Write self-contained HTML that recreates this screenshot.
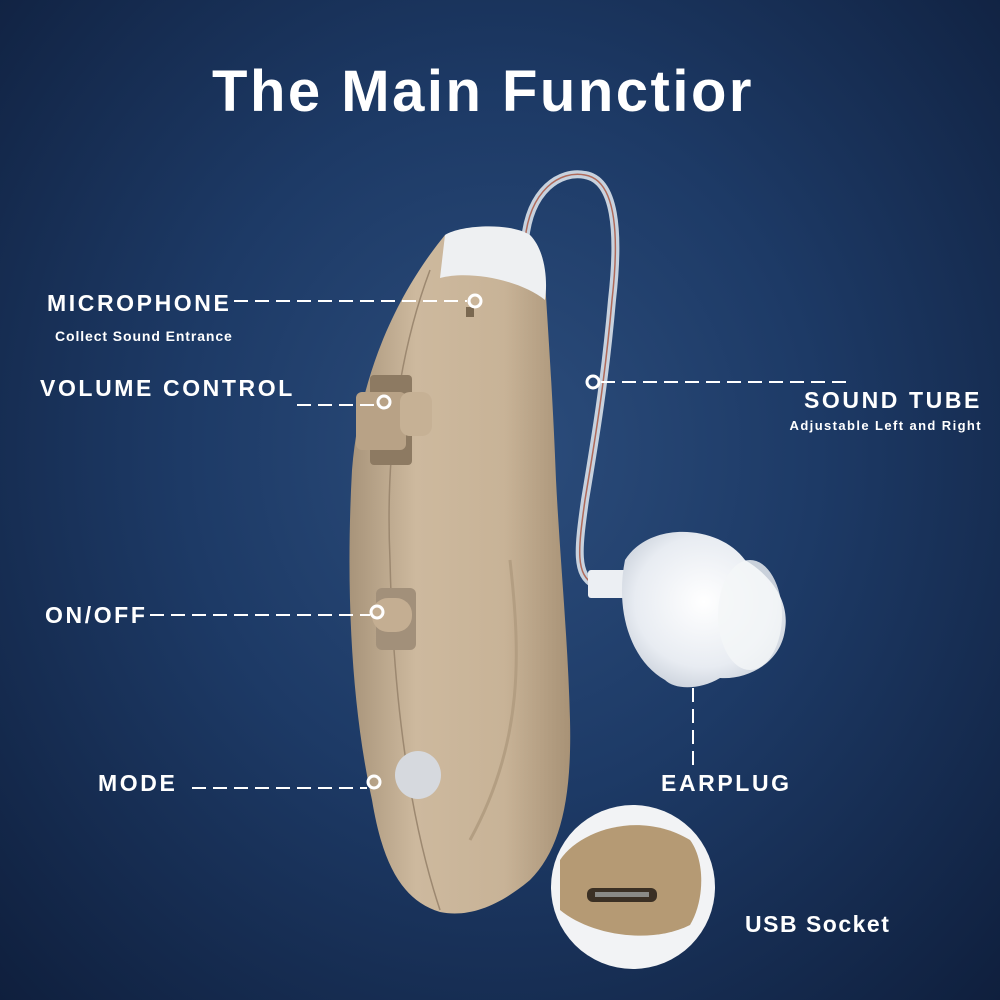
<!DOCTYPE html>
<html><head><meta charset="utf-8"><style>
html,body{margin:0;padding:0;width:1000px;height:1000px;overflow:hidden}
body{background:radial-gradient(ellipse at 50% 45%,#2c4d7c 0%,#1d3a66 45%,#0f1f3d 100%);font-family:"Liberation Sans",Arial,sans-serif;color:#fff;position:relative}
.t{position:absolute;font-weight:bold;white-space:nowrap;letter-spacing:2.6px}
</style></head><body>
<svg width="1000" height="1000" style="position:absolute;left:0;top:0">
<defs>
<linearGradient id="bg" x1="0" x2="1" y1="0" y2="0">
<stop offset="0" stop-color="#a8947a"/><stop offset="0.3" stop-color="#cdb99e"/><stop offset="0.7" stop-color="#c8b397"/><stop offset="1" stop-color="#a89276"/></linearGradient>
<radialGradient id="ep" cx="0.5" cy="0.45" r="0.6"><stop offset="0" stop-color="#ffffff"/><stop offset="0.7" stop-color="#e8ecf2"/><stop offset="1" stop-color="#c9d0da"/></radialGradient>
</defs>
<path d="M525 240 C530 190 560 170 585 175 C615 180 620 230 612 300 C605 380 595 440 585 500 C578 550 575 575 595 585" fill="none" stroke="#c8d2de" stroke-width="8"/>
<path d="M525 240 C530 190 560 170 585 175 C615 180 620 230 612 300 C605 380 595 440 585 500 C578 550 575 575 595 585" fill="none" stroke="#b06a5a" stroke-width="1.5"/>
<path d="M445 235 C400 290 360 370 352 470 C346 580 350 700 372 800 C382 860 400 900 440 912 C470 918 500 905 530 880 C560 850 572 800 570 720 C568 640 560 560 556 480 C553 400 548 330 545 280 C530 240 490 228 445 235Z" fill="url(#bg)"/>
<path d="M445 235 C460 225 510 222 530 235 C545 250 548 280 545 300 C520 280 470 270 440 278Z" fill="#eef0f2"/>
<path d="M430 270 C400 350 385 450 390 560 C393 700 410 820 440 910" fill="none" stroke="#9c8870" stroke-width="1.5"/>
<path d="M510 560 C520 650 525 740 470 840" fill="none" stroke="#b39e82" stroke-width="3"/>
<rect x="370" y="375" width="42" height="90" rx="4" fill="#8d7a62"/>
<rect x="356" y="392" width="50" height="58" rx="6" fill="#b8a286"/>
<rect x="400" y="392" width="32" height="44" rx="10" fill="#c6b195"/>
<rect x="376" y="588" width="40" height="62" rx="6" fill="#a2907a"/>
<rect x="372" y="598" width="40" height="34" rx="16" fill="#c4ae92"/>
<ellipse cx="418" cy="775" rx="23" ry="24" fill="#d6d9de"/>
<rect x="466" y="307" width="8" height="10" fill="#7a6850"/>
<rect x="588" y="570" width="40" height="28" rx="3" fill="#eceff3"/>
<path d="M625 560 C650 520 720 525 745 560 C770 575 790 600 785 630 C780 665 745 680 720 678 C700 690 675 690 665 680 C630 660 615 610 625 560Z" fill="url(#ep)"/>
<ellipse cx="750" cy="615" rx="32" ry="55" fill="#f4f6f8" opacity="0.8"/>
<circle cx="633" cy="887" r="82" fill="#f2f3f5"/>
<path d="M560 860 C580 830 640 810 690 840 C705 860 705 900 690 925 C650 945 590 935 560 910Z" fill="#b59a74"/>
<rect x="587" y="888" width="70" height="14" rx="6" fill="#3b3024"/>
<rect x="595" y="892" width="54" height="5" fill="#8a8a86"/>
<g stroke="#fff" stroke-width="2" fill="none" stroke-dasharray="14,7">
<line x1="234" y1="301" x2="467" y2="301"/>
<line x1="297" y1="405" x2="376" y2="405"/>
<line x1="150" y1="615" x2="370" y2="615"/>
<line x1="192" y1="788" x2="367" y2="788"/>
<line x1="601" y1="382" x2="852" y2="382"/>
<line x1="693" y1="688" x2="693" y2="770"/>
</g>
<g stroke="#fff" stroke-width="3" fill="none">
<circle cx="475" cy="301" r="6"/><circle cx="384" cy="402" r="6"/>
<circle cx="377" cy="612" r="6"/><circle cx="374" cy="782" r="6"/>
<circle cx="593" cy="382" r="6"/>
</g>
</svg>
<div class="t" style="left:0;width:966px;text-align:center;top:58px;font-size:58px;letter-spacing:2.5px">The Main Functior</div>
<div class="t" style="left:47px;top:290px;font-size:23px">MICROPHONE</div>
<div class="t" style="left:55px;top:328px;font-size:14px;letter-spacing:0.9px">Collect Sound Entrance</div>
<div class="t" style="left:40px;top:375px;font-size:23px">VOLUME CONTROL</div>
<div class="t" style="left:45px;top:602px;font-size:23px">ON/OFF</div>
<div class="t" style="left:98px;top:770px;font-size:23px">MODE</div>
<div class="t" style="right:18px;top:387px;font-size:23px">SOUND TUBE</div>
<div class="t" style="right:18px;top:418px;font-size:13px;letter-spacing:1.4px">Adjustable Left and Right</div>
<div class="t" style="left:661px;top:770px;font-size:23px">EARPLUG</div>
<div class="t" style="left:745px;top:911px;font-size:23px;letter-spacing:1.5px">USB Socket</div>
</body></html>
